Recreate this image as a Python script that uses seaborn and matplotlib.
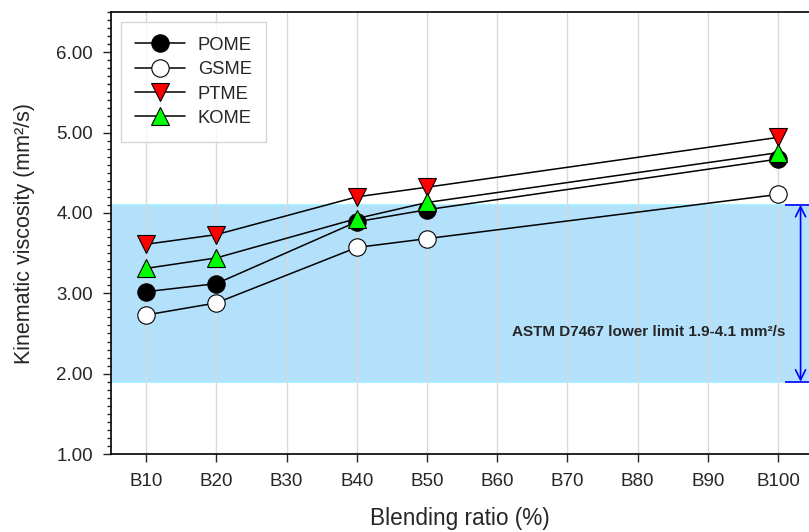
import numpy as np
import matplotlib
matplotlib.use("Agg")
import matplotlib.pyplot as plt
import seaborn as sns
from matplotlib.ticker import MultipleLocator

categories = ["B10", "B20", "B30", "B40", "B50", "B60", "B70", "B80", "B90", "B100"]
blends = ["B10", "B20", "B40", "B50", "B100"]
pome = [3.02, 3.12, 3.89, 4.04, 4.67]
gsme = [2.73, 2.88, 3.57, 3.68, 4.23]
ptme = [3.61, 3.73, 4.20, 4.32, 4.94]
kome = [3.31, 3.44, 3.93, 4.13, 4.75]
limit_low, limit_high = 1.9, 4.1

sns.set_style("white")
plt.rcParams["font.family"] = ["Liberation Sans", "DejaVu Sans"]

fig = plt.figure(figsize=(8.09, 5.32), dpi=100)
ax = fig.add_axes([0.1372, 0.1466, 0.8628, 0.8308])

xpos = [categories.index(b) for b in blends]

ax.axhspan(limit_low, limit_high, facecolor="#b3e0fb", edgecolor="#a0f0ff", lw=1.2, zorder=0.3)

series = [
    ("POME", pome, "o", "black"),
    ("GSME", gsme, "o", "white"),
    ("PTME", ptme, "v", "red"),
    ("KOME", kome, "^", "#00ff00"),
]
for name, vals, m, fc in series:
    sns.lineplot(x=xpos, y=vals, ax=ax, color="black", lw=1.1, marker=m, markersize=12.5,
                 markerfacecolor=fc, markeredgecolor="black", markeredgewidth=0.8, label=name)

ax.set_xlim(-0.5, 9.44)
ax.set_ylim(1.0, 6.5)
ax.set_xticks(range(len(categories)))
ax.set_xticklabels(categories, fontsize=13.5)
ax.set_yticks(np.arange(1, 7, 1))
ax.set_yticklabels([f"{v:.2f}" for v in np.arange(1, 7, 1)], fontsize=13.5)
ax.yaxis.set_minor_locator(MultipleLocator(0.1))
ax.tick_params(axis="y", which="major", direction="out", length=6, width=1, left=True, pad=7)
ax.tick_params(axis="y", which="minor", direction="out", length=3, width=1, left=True)
ax.tick_params(axis="x", which="major", direction="out", length=6, width=1, bottom=True, pad=8)

ax.grid(axis="x", color="#d9d9d9", lw=1)
ax.set_axisbelow(True)
for s in ["left", "bottom", "top"]:
    ax.spines[s].set_color("black")
    ax.spines[s].set_linewidth(1.2)
ax.spines["right"].set_visible(False)

ax.set_xlabel("Blending ratio (%)", fontsize=16.3, labelpad=12)
ax.set_ylabel("Kinematic viscosity (mm²/s)", fontsize=15.5, labelpad=15)

# limit arrow
xa = 9.32
ax.annotate("", xy=(xa, limit_low), xytext=(xa, limit_high),
            arrowprops=dict(arrowstyle="<->", color="blue", lw=1.2, mutation_scale=18,
                            shrinkA=0, shrinkB=0))
ax.hlines([limit_low, limit_high], 9.10, 9.44, color="blue", lw=1.2)
ax.text(9.10, 2.52, "ASTM D7467 lower limit 1.9-4.1 mm²/s", ha="right", va="center",
        fontsize=11, fontweight="bold")

leg = ax.legend(loc="upper left", bbox_to_anchor=(0.014, 0.977), borderaxespad=0,
                fontsize=13.2, frameon=True, fancybox=False, edgecolor="#cccccc",
                handlelength=2.7, borderpad=0.8, labelspacing=0.4, handletextpad=0.7)
leg.get_frame().set_linewidth(1.0)

fig.savefig("out.png", dpi=100)
